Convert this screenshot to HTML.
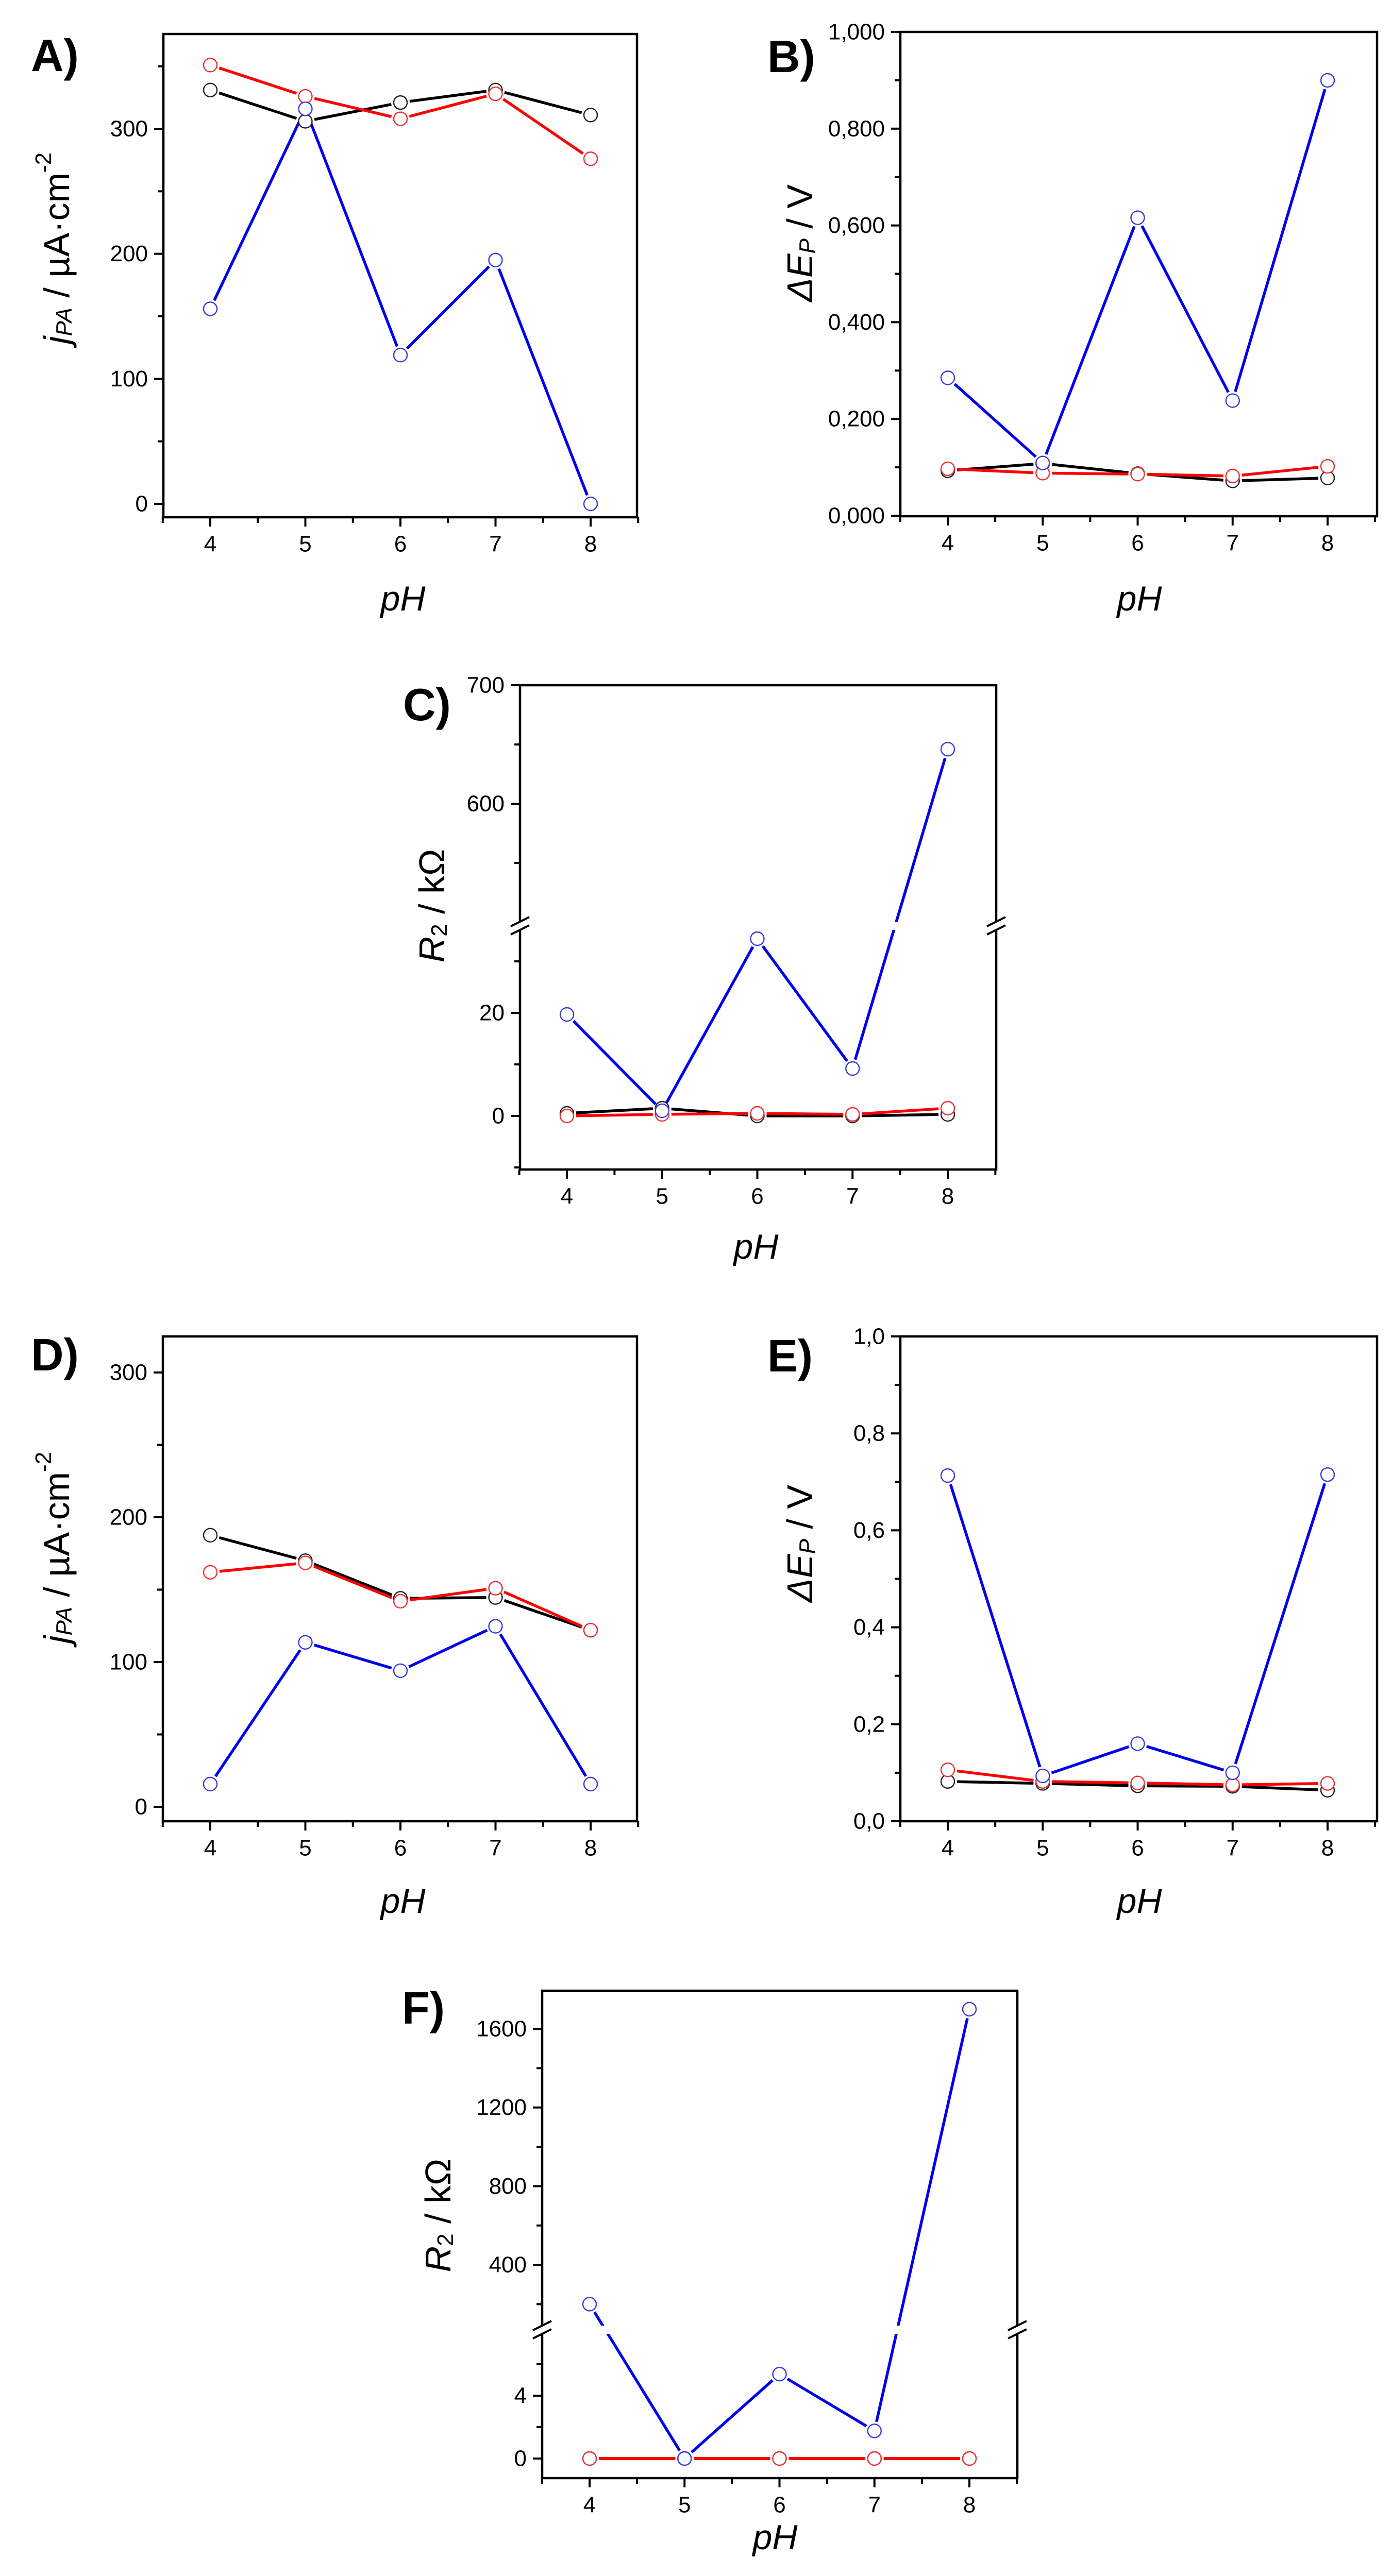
<!DOCTYPE html>
<html><head><meta charset="utf-8">
<style>
html,body{margin:0;padding:0;background:#fff;overflow:hidden;width:2701px;height:5035px;}
svg{display:block;position:absolute;left:0;top:0;font-family:"Liberation Sans",Arial,sans-serif;}
</style></head>
<body>
<svg id="fig" width="2701" height="5035" viewBox="0 0 2701 5035" xmlns="http://www.w3.org/2000/svg">
<rect x="0" y="0" width="2701" height="5035" fill="#fff"/>
</svg>
<script>
const pH = [4, 5, 6, 7, 8];
// Panel A: j_PA
const A_black = [331, 306, 321, 331, 311];
const A_red = [351, 326, 308, 328, 276];
const A_blue = [156, 316, 119, 195, 0];
const A_ticks = [0, 100, 200, 300];
// Panel B: dEp
const B_black = [0.093, 0.108, 0.087, 0.072, 0.078];
const B_red = [0.097, 0.088, 0.086, 0.082, 0.102];
const B_blue = [0.285, 0.109, 0.616, 0.238, 0.900];
const B_ticks = [0, 0.2, 0.4, 0.6, 0.8, 1.0];
// Panel C: R2 (broken axis)
const C_black = [0.5, 1.5, 0, 0, 0.3];
const C_red = [0, 0.3, 0.5, 0.3, 1.5];
const C_blue = [19.7, 1, 34.4, 9.2, 646];
const C_ticks = [0, 20, 600, 700];
// Panel D: j_PA
const D_black = [187.6, 170, 144, 144.6, 122];
const D_red = [162, 168.5, 142, 151, 122];
const D_blue = [15.7, 113.6, 94, 124.7, 15.7];
const D_ticks = [0, 100, 200, 300];
// Panel E: dEp
const E_black = [0.082, 0.078, 0.073, 0.072, 0.064];
const E_red = [0.106, 0.082, 0.079, 0.075, 0.078];
const E_blue = [0.713, 0.0935, 0.16, 0.1, 0.715];
const E_ticks = [0, 0.2, 0.4, 0.6, 0.8, 1.0];
// Panel F: R2 (broken axis)
const F_black = [0, 0, 0, 0, 0];
const F_red = [0, 0, 0, 0, 0];
const F_blue = [200, 0, 5.37, 1.76, 1700];
const F_ticks = [0, 4, 400, 800, 1200, 1600];

const NS = "http://www.w3.org/2000/svg";
const svg = document.getElementById('fig');
function mk(tag, attrs, parent) {
  const e = document.createElementNS(NS, tag);
  for (const k in attrs) e.setAttribute(k, attrs[k]);
  (parent || svg).appendChild(e);
  return e;
}
function lin(v0, p0, v1, p1) { return v => p0 + (v - v0) * (p1 - p0) / (v1 - v0); }

const COL = {black: '#000000', red: '#ff0000', blue: '#0000ee'};
const MCOL = {black: '#202020', red: '#ee3030', blue: '#3a3ae0'};

function drawPanel(cfg) {
  const g = mk('g', {});
  
  
  const [L, T, R, B] = cfg.frame;
  const xs = lin(4, cfg.x4, 8, cfg.x8);
  const ys = cfg.y;

  for (let v = 3.5; v <= 8.51; v += 0.5) {
    const major = Math.abs(v - Math.round(v)) < 0.01;
    const t = mk('line', {x1: xs(v), x2: xs(v), y1: B, y2: B + (major ? 18 : 11), stroke: '#000', 'stroke-width': 4}, g);
    
    
  }
  pH.forEach(v => {
    const t = mk('text', {x: xs(v), y: B + 52, 'font-size': 44, 'text-anchor': 'middle', 'dominant-baseline': 'central', fill: '#000'}, g);
    t.textContent = String(v);
    
    
  });
  cfg.minors.forEach(v => {
    const y = ys(v);
    const t = mk('line', {x1: L - 11, x2: L, y1: y, y2: y, stroke: '#000', 'stroke-width': 4}, g);
    
    
  });
  cfg.ticks.forEach(v => {
    const y = ys(v);
    const t = mk('line', {x1: L - 18, x2: L, y1: y, y2: y, stroke: '#000', 'stroke-width': 4}, g);
    
    
    const tl = mk('text', {x: L - 30, y: y, 'font-size': 44, 'text-anchor': 'end', 'dominant-baseline': 'central', fill: '#000'}, g);
    tl.textContent = cfg.fmt(v);
    
    
  });

  const series = [['black', cfg.black], ['red', cfg.red], ['blue', cfg.blue]];
  const r = 13;
  series.forEach(([c, arr]) => {
    for (let i = 0; i < arr.length - 1; i++) {
      const x1 = xs(pH[i]), y1 = ys(arr[i]), x2 = xs(pH[i + 1]), y2 = ys(arr[i + 1]);
      const d = Math.hypot(x2 - x1, y2 - y1);
      const s = Math.min((r + 5) / d, 0.45);
      const ln = mk('line', {x1: x1 + (x2 - x1) * s, y1: y1 + (y2 - y1) * s, x2: x2 - (x2 - x1) * s, y2: y2 - (y2 - y1) * s, stroke: COL[c], 'stroke-width': 5.5}, g);
      
      
    }
  });
  if (cfg.breakY) {
    const w = mk('rect', {x: L + 3, y: cfg.breakY - 8, width: R - L - 6, height: 16, fill: '#fff'}, g);
    
    
  }
  series.forEach(([c, arr]) => {
    arr.forEach((v, i) => {
      const m = mk('circle', {cx: xs(pH[i]), cy: ys(v), r: r, fill: '#fff', stroke: MCOL[c], 'stroke-width': 2.4}, g);
      
      
    });
  });
  const f = mk('rect', {x: L, y: T, width: R - L, height: B - T, fill: 'none', stroke: '#000', 'stroke-width': 4.5}, g);
  
  
  if (cfg.breakY) {
    [L, R].forEach(ax => {
      const wb = mk('rect', {x: ax - 4, y: cfg.breakY - 9, width: 8, height: 18, fill: '#fff'}, g);
      
      
      [-8, 8].forEach(o => {
        const bl = mk('line', {x1: ax - 18, y1: cfg.breakY + o + 9, x2: ax + 18, y2: cfg.breakY + o - 9, stroke: '#000', 'stroke-width': 4}, g);
        
        
      });
    });
  }
  const pl = mk('text', {x: cfg.lab[0], y: cfg.lab[1], 'font-size': 88, 'font-weight': 'bold', fill: '#000'}, g);
  pl.textContent = cfg.id + ')';
  
  
  const xt = mk('text', {x: cfg.xt[0], y: cfg.xt[1], 'font-size': 68, 'font-style': 'italic', 'text-anchor': 'middle', 'dominant-baseline': 'central', fill: '#000'}, g);
  xt.textContent = 'pH';
  
  
  const yt = mk('text', {x: 0, y: 0, 'font-size': 70, 'text-anchor': 'middle', 'dominant-baseline': 'central', fill: '#000', transform: 'translate(' + cfg.yt[0] + ',' + cfg.yt[1] + ') rotate(-90)'}, g);
  
  
  yt.innerHTML = cfg.ytitle;
}

const fmtInt = v => String(Math.round(v));
const jTitle = '<tspan font-style="italic">j</tspan><tspan font-style="italic" font-size="44" dy="14">PA</tspan><tspan dy="-14"> / µA·cm</tspan><tspan font-size="44" dy="-26">-2</tspan>';
const eTitle = '<tspan font-style="italic">ΔE</tspan><tspan font-style="italic" font-size="44" dy="14">P</tspan><tspan dy="-14"> / V</tspan>';
const rTitle = '<tspan font-style="italic">R</tspan><tspan font-size="44" dy="14">2</tspan><tspan dy="-14"> / kΩ</tspan>';

function brokenY(lo, hi, loMax) {
  return v => (v <= loMax ? lo(v) : hi(v));
}

drawPanel({id: 'A', frame: [317, 66, 1236, 1004], x4: 408, x8: 1146,
  y: lin(0, 978, 300, 250), ticks: A_ticks, minors: [50, 150, 250, 350], fmt: fmtInt,
  black: A_black, red: A_red, blue: A_blue, lab: [60, 138], xt: [782, 1162], yt: [110, 482], ytitle: jTitle});
drawPanel({id: 'B', frame: [1747, 62, 2672, 1002], x4: 1839, x8: 2576,
  y: lin(0, 1001, 1, 62), ticks: B_ticks, minors: [0.1, 0.3, 0.5, 0.7, 0.9], fmt: v => v.toFixed(3).replace('.', ','),
  black: B_black, red: B_red, blue: B_blue, lab: [1489, 140], xt: [2211, 1162], yt: [1552, 472], ytitle: eTitle});
drawPanel({id: 'C', frame: [1009, 1330, 1933, 2270], x4: 1100, x8: 1839,
  y: brokenY(lin(0, 2166, 20, 1966), lin(600, 1560, 700, 1330), 36.6), breakY: 1797,
  ticks: C_ticks, minors: [-10, 10, 30, 550, 650], fmt: fmtInt,
  black: C_black, red: C_red, blue: C_blue, lab: [782, 1398], xt: [1467, 2420], yt: [838, 1758], ytitle: rTitle});
drawPanel({id: 'D', frame: [316, 2594, 1236, 3535], x4: 408, x8: 1146,
  y: lin(0, 3507, 300, 2664), ticks: D_ticks, minors: [50, 150, 250], fmt: fmtInt,
  black: D_black, red: D_red, blue: D_blue, lab: [60, 2660], xt: [782, 3690], yt: [110, 3004], ytitle: jTitle});
drawPanel({id: 'E', frame: [1747, 2594, 2672, 3535], x4: 1839, x8: 2576,
  y: lin(0, 3535, 1, 2594), ticks: E_ticks, minors: [0.1, 0.3, 0.5, 0.7, 0.9], fmt: v => v.toFixed(1).replace('.', ','),
  black: E_black, red: E_red, blue: E_blue, lab: [1489, 2662], xt: [2211, 3690], yt: [1552, 2996], ytitle: eTitle});
drawPanel({id: 'F', frame: [1052, 3864, 1974, 4810], x4: 1144, x8: 1881,
  y: brokenY(lin(0, 4772, 4, 4650), lin(400, 4396, 1600, 3938), 8.3), breakY: 4522,
  ticks: F_ticks, minors: [2, 6, 200, 600, 1000, 1400], fmt: fmtInt,
  black: F_black, red: F_red, blue: F_blue, lab: [780, 3928], xt: [1504, 4925], yt: [850, 4300], ytitle: rTitle});
</script>
</body></html>
